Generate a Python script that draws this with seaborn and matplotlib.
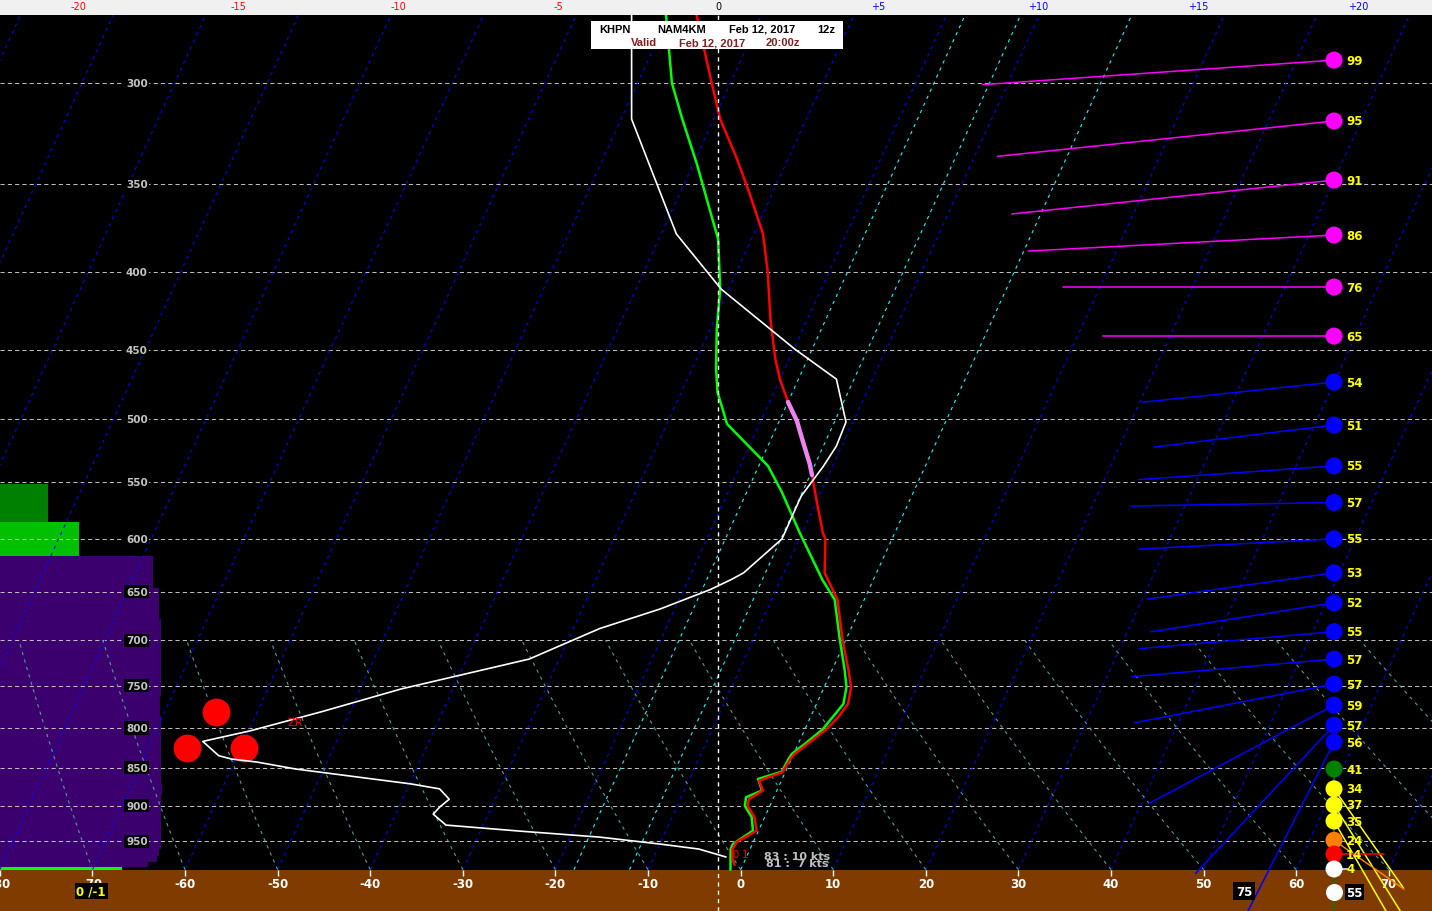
import numpy as np
import pandas as pd
import matplotlib
matplotlib.use("Agg")
import matplotlib.pyplot as plt
import seaborn as sns
from matplotlib.patches import Rectangle

# ---------------- data ----------------
temp_p = [270.5, 300.0, 316.9, 336.8, 355.2, 377.4, 400.0, 429.5, 456.4, 470.6,
          487.3, 501.5, 517.8, 535.3, 544.5, 570.3, 594.2, 600.0, 631.8, 658.0,
          698.7, 731.3, 751.5, 771.1, 786.8, 802.0, 819.7, 832.2, 838.6, 855.4,
          866.7, 879.8, 891.4, 900.5, 916.1, 935.1, 951.5, 961.6, 976.3, 985.2]
temp_c = [-47.0, -42.0, -39.3, -35.5, -32.4, -29.0, -26.6, -24.0, -21.5, -20.0,
          -18.0, -16.1, -14.4, -12.6, -11.8, -9.7, -7.8, -7.2, -5.6, -2.9,
          -0.4, 1.7, 2.9, 3.4, 3.0, 2.3, 1.0, 0.1, -0.1, -0.3,
          -2.4, -1.5, -2.6, -2.4, -1.1, -0.2, -1.8, -1.9, -1.4, -0.9]

dew_p = [270.5, 300.0, 316.9, 339.3, 363.4, 380.3, 410.4, 436.1, 463.4, 480.0,
         503.8, 537.0, 558.9, 594.2, 638.5, 658.0, 698.7, 731.3, 751.5, 771.1,
         786.8, 802.0, 819.7, 832.2, 838.6, 854.9, 864.4, 879.8, 888.7, 900.5,
         916.1, 935.1, 954.4, 961.6, 992.3]
dewpt_c = [-50.3, -46.3, -43.4, -39.6, -36.0, -33.6, -30.9, -29.3, -27.4, -26.1,
           -23.5, -17.0, -14.2, -10.3, -5.5, -3.2, -0.7, 1.3, 2.4, 2.9,
           2.4, 1.9, 0.7, -0.2, -0.3, -0.4, -2.6, -1.6, -3.0, -2.7,
           -1.4, -0.6, -2.1, -2.1, -1.1]

omega_p = [270.5, 316.9, 377.4, 410.4, 449.6, 470.6, 502.3, 521.0, 537.0, 562.2,
           600.0, 631.8, 638.5, 648.2, 667.4, 687.7, 720.3, 753.8, 780.5, 803.2,
           816.4, 834.4, 838.6, 842.5, 851.4, 870.9, 877.5, 891.4, 902.3, 911.9,
           927.2, 935.7, 944.3, 954.4, 961.6, 973.3]
omega_v = [-2.7, -2.7, -1.3, 0.1, 2.4, 3.7, 4.0, 3.7, 3.3, 2.6,
           2.0, 0.8, 0.4, -0.25, -1.8, -3.7, -5.9, -9.9, -12.4, -14.6,
           -16.1, -15.6, -15.2, -14.4, -13.2, -9.6, -8.7, -8.4, -8.7, -8.9,
           -8.5, -6.2, -3.7, -1.8, -0.6, 0.25]

lift_u = [-15.7, -16.6, -14.8]
lift_p = [780.8, 824.7, 824.7]

wind_p = [289.7, 317.8, 347.7, 378.0, 409.1, 440.8, 472.7, 504.6, 537.0, 567.7,
          600.0, 631.8, 661.3, 690.9, 720.3, 748.2, 772.5, 796.4, 817.3, 851.4,
          877.5, 899.3, 921.5, 948.8, 968.9, 991.2]
wind_kt = [99, 95, 91, 86, 76, 65, 54, 51, 55, 57,
           55, 53, 52, 55, 57, 57, 59, 57, 56, 41,
           34, 37, 35, 24, 14, 4]
wind_dir = [266, 264, 264, 267, 270, 270, 264, 263, 266, 269,
            267, 262, 261, 265, 265, 259, 242, 223, 207, 180,
            145, 148, 150, 125, 90, 90]
gust_p = 1026.7
gust_kt = 55

bar_top = [551.9, 584.5, 615.9, 646.9, 677.3, 762.0, 785.6, 870.9, 884.1, 961.6, 971.9, 980.8, 988.2]
bar_bot = [584.5, 615.9, 646.9, 677.3, 762.0, 785.6, 870.9, 884.1, 961.6, 971.9, 980.8, 988.2, 992.3]
bar_len = [5.15, 8.53, 16.5, 17.2, 17.4, 17.3, 17.4, 17.5, 17.4, 17.2, 17.0, 16.0, 13.2]
bar_col = ['#008000', '#00c000'] + ['#3c006e'] * 10 + ['#00ff00']

pressure_levels = [300, 350, 400, 450, 500, 550, 600, 650, 700, 750, 800, 850, 900, 950]
bottom_ticks = [-80, -70, -60, -50, -40, -30, -20, -10, 0, 10, 20, 30, 40, 50, 60, 70]
top_ticks = [-20, -15, -10, -5, 0, 5, 10, 15, 20]
top_labels = ['-20', '-15', '-10', '-5', '0', '+5', '+10', '+15', '+20']
top_colors = ['#ff0000'] * 4 + ['#000000'] + ['#0000ff'] * 4
dgz_lo, dgz_hi = -18.05, -11.75
special_isotherms = [-18, -12, 0]

# ---------------- geometry ----------------
W, H = 1432, 912
K = 32.5          # skew (degC per ln p)
P_REF = 992.3     # pressure at ground line
P_TOP, P_BOT = 270.5, 1056.6
XMIN, XMAX = -79.98, 74.66
U_MIN, U_MAX = -22.4375, 22.3125


def skew(t, p):
    return np.asarray(t, float) + K * np.log(P_REF / np.asarray(p, float))


sns.set_style("dark")
plt.rcParams['font.family'] = ['DejaVu Sans']

fig = plt.figure(figsize=(W / 100, H / 100), dpi=100)
fig.patch.set_facecolor('black')

ax = fig.add_axes([0, 0, 1, 896 / H])
ax.set_facecolor('black')
ax.set_yscale('log')
ax.set_ylim(P_BOT, P_TOP)
ax.set_xlim(XMIN, XMAX)
for s in ax.spines.values():
    s.set_visible(False)
ax.set_xticks([])
ax.set_yticks([])
ax.minorticks_off()
ax.grid(False)

# ground
ax.axhspan(P_REF, P_BOT, color='#803c00', zorder=0.5, lw=0)

# left bars
ax.barh(bar_top, bar_len, height=np.array(bar_bot) - np.array(bar_top),
        left=XMIN, align='edge', color=bar_col, lw=0, zorder=1)

# pressure grid
ax.hlines(pressure_levels, XMIN, XMAX, colors='#bdbdbd', lw=0.75,
          linestyles=(0, (4, 3)), zorder=2)

# isotherms
pp = np.array([P_REF, P_TOP])
for t in range(-170, 80, 10):
    if t in special_isotherms:
        continue
    ax.plot(skew([t, t], pp), pp, color='#0000ff', lw=0.8,
            dashes=(3, 4), zorder=2)
for t in special_isotherms:
    ax.plot(skew([t, t], pp), pp, color='#00ffff', lw=0.8,
            dashes=(3, 4), zorder=2)

# dry adiabats (ground to 700 hPa)
pa = np.geomspace(P_REF, 700, 30)
for t0 in range(-80, 140, 10):
    theta = (t0 + 273.15) * (1000 / P_REF) ** 0.2857
    ta = theta * (pa / 1000) ** 0.2857 - 273.15
    ax.plot(skew(ta, pa), pa, color='#4f9c9c', lw=0.8, dashes=(3, 4), zorder=2)

# ground ticks and labels
ax.vlines(bottom_ticks, P_REF, 1002, colors='white', lw=1, zorder=3)
for t in bottom_ticks:
    ax.text(t, 1013, str(t), color='white', fontsize=8.5, fontweight='bold',
            ha='center', va='center', zorder=3)

# pressure labels
for p in pressure_levels:
    ax.text(-65.2, p, str(p), color='#c4c4c4', fontsize=7.5, fontweight='bold',
            ha='center', va='center', zorder=5,
            bbox=dict(boxstyle='square,pad=0.15', fc='black', ec='none'))

# temperature / dewpoint profiles
tdf = pd.DataFrame({'x': skew(temp_c, temp_p), 'p': temp_p, 't': temp_c})
ddf = pd.DataFrame({'x': skew(dewpt_c, dew_p), 'p': dew_p})
sns.lineplot(data=ddf, x='x', y='p', sort=False, estimator=None, orient='y',
             color='#00ff00', lw=1.8, ax=ax, zorder=4)
sns.lineplot(data=tdf, x='x', y='p', sort=False, estimator=None, orient='y',
             color='#ff0000', lw=1.8, ax=ax, zorder=4)
dgz = tdf[(tdf.t >= dgz_lo) & (tdf.t <= dgz_hi)]
sns.lineplot(data=dgz, x='x', y='p', sort=False, estimator=None, orient='y',
             color='#ee82ee', lw=3.2, ax=ax, zorder=4.5)

# wind markers
WX = 64.08
LX = 65.38


def wcol(s):
    if s >= 65:
        return '#ff00ff'
    if s >= 50:
        return '#0000ff'
    if s >= 40:
        return '#008000'
    if s >= 30:
        return '#ffff00'
    if s >= 20:
        return '#ff8000'
    if s >= 10:
        return '#ff0000'
    return '#ffffff'


trans = ax.transData
inv = trans.inverted()
for p, s, d in zip(wind_p, wind_kt, wind_dir):
    x0, y0 = trans.transform((WX, p))
    L = s * 3.56
    x1 = x0 + L * np.sin(np.radians(d))
    y1 = y0 + L * np.cos(np.radians(d))
    xe, pe = inv.transform((x1, y1))
    ax.plot([WX, xe], [p, pe], color=wcol(s), lw=1.1, zorder=6)

wdf = pd.DataFrame({'x': [WX] * len(wind_p), 'p': wind_p,
                    'c': [wcol(s) for s in wind_kt]})
sns.scatterplot(data=wdf, x='x', y='p', c=wdf['c'], s=150, linewidth=0,
                ax=ax, zorder=7)
for p, s in zip(wind_p, wind_kt):
    ax.text(LX, p, str(s), color='#ffff00', fontsize=8.5, fontweight='bold',
            ha='left', va='center', zorder=8)
ax.scatter([WX], [gust_p], s=150, color='white', lw=0, zorder=7)
ax.text(LX, gust_p, str(gust_kt), color='white', fontsize=8.5, fontweight='bold',
        ha='left', va='center', zorder=8,
        bbox=dict(boxstyle='square,pad=0.1', fc='black', ec='none'))

# ground annotations
ax.text(-70.15, 1025, '0 /-1', color='#ffff00', fontsize=8.5, fontweight='bold',
        ha='center', va='center', zorder=8,
        bbox=dict(boxstyle='square,pad=0.15', fc='black', ec='none'))
ax.text(54.36, 1025, '75', color='white', fontsize=8.5, fontweight='bold',
        ha='center', va='center', zorder=8,
        bbox=dict(boxstyle='square,pad=0.2', fc='black', ec='none'))
ax.text(2.5, 971.9, '83 : 10 kts', color='#c0c0c0', fontsize=8, fontweight='bold',
        ha='left', va='center', zorder=8)
ax.text(2.7, 982.3, '81 :  7 kts', color='#c0c0c0', fontsize=8, fontweight='bold',
        ha='left', va='center', zorder=8)
ax.text(0.0, 969, '0 1', color='#ff0000', fontsize=7, ha='center', va='center',
        zorder=8)

# ---------- omega-type profile on the top scale ----------
ax2 = ax.twiny()
ax2.set_xlim(U_MIN, U_MAX)
ax2.set_ylim(P_BOT, P_TOP)
ax2.set_xticks([])
ax2.set_yticks([])
ax2.minorticks_off()
for s in ax2.spines.values():
    s.set_visible(False)
ax2.grid(False)
ax2.axvline(0, color='white', lw=1, dashes=(3, 3), zorder=2)
sns.scatterplot(x=lift_u, y=lift_p, color='#ff0000', s=400, linewidth=0,
                ax=ax2, zorder=3)
odf = pd.DataFrame({'u': omega_v, 'p': omega_p})
sns.lineplot(data=odf, x='u', y='p', sort=False, estimator=None, orient='y',
             color='white', lw=1.2, ax=ax2, zorder=4)
ax2.text(-13.2, 792.8, 'ZR', color='#ff0000', fontsize=8, ha='center',
         va='center', zorder=5)
ax2.set_xlabel('')
ax2.set_ylabel('')
ax.set_xlabel('')
ax.set_ylabel('')

# ---------- top scale strip ----------
axt = fig.add_axes([0, 1 - 16 / H, 1, 16 / H])
axt.set_facecolor('#f0f0f0')
axt.set_xlim(U_MIN, U_MAX)
axt.set_ylim(0, 1)
axt.set_xticks([])
axt.set_yticks([])
for s in axt.spines.values():
    s.set_visible(False)
for v, lab, c in zip(top_ticks, top_labels, top_colors):
    axt.text(v, 0.55, lab, color=c, fontsize=7, ha='center', va='center')

# ---------- header box ----------
fig.patches.append(Rectangle((591 / W, 1 - 50 / H), 252 / W, 28 / H,
                             transform=fig.transFigure, fc='white', ec='none',
                             zorder=10))
hdr1 = [(599, 'KHPN'), (657, 'NAM4KM'), (729, 'Feb 12, 2017'), (817, '12z')]
hdr2 = [(631, 'Valid'), (679, 'Feb 12, 2017'), (766, '20:00z')]
for x, s in hdr1:
    fig.text(x / W, 1 - 30 / H, s, color='black', fontsize=8, ha='left',
             va='center', zorder=11, family='Liberation Sans', fontweight='bold')
for x, s in hdr2:
    fig.text(x / W, 1 - 43 / H, s, color='#7f1f1f', fontsize=8, ha='left',
             va='center', zorder=11, family='Liberation Sans', fontweight='bold')

fig.savefig('out.png', dpi=100, facecolor='black')
